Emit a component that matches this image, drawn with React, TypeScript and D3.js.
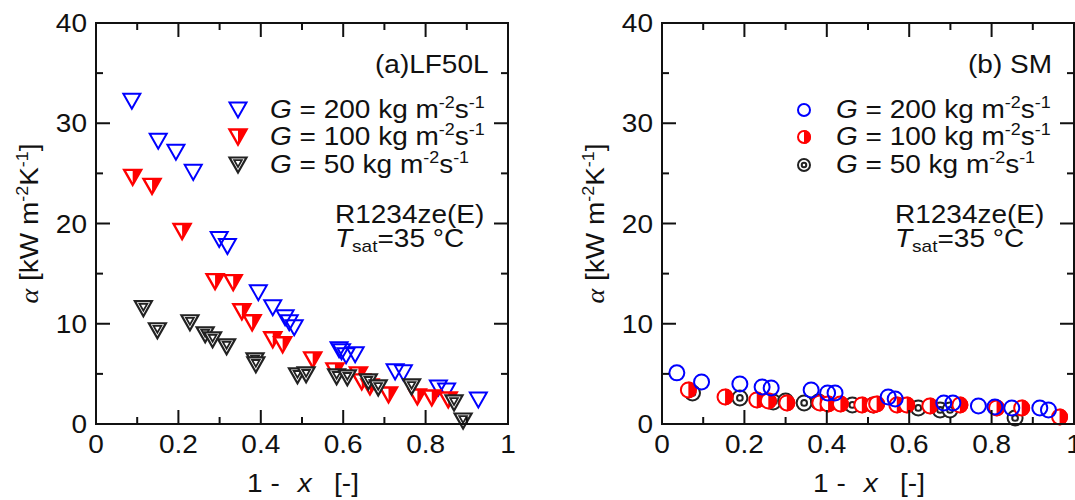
import React from "react";
import * as d3 from "d3";

const width = 1075;
const height = 500;
const FONT = "'Liberation Sans', Arial, sans-serif";
const SX = 1.12; // the original text is a bit wider than Arial

// panel (a) LF50L : [1 - x, alpha]
const lf200: [number, number][] = [
  [0.087, 32.2], [0.151, 28.2], [0.194, 27.1], [0.236, 25.1], [0.299, 18.4], [0.319, 17.7],
  [0.394, 13.1], [0.429, 11.6], [0.459, 10.6], [0.469, 10.1], [0.481, 9.6], [0.59, 7.4],
  [0.596, 7.2], [0.607, 6.8], [0.629, 6.9], [0.726, 5.2], [0.746, 5.1], [0.831, 3.6],
  [0.851, 3.3], [0.928, 2.4],
];
const lf100: [number, number][] = [
  [0.089, 24.6], [0.136, 23.7], [0.209, 19.2], [0.289, 14.2], [0.333, 14.1], [0.354, 11.2],
  [0.379, 10.1], [0.429, 8.4], [0.453, 7.9], [0.526, 6.4], [0.58, 5.3], [0.637, 4.9],
  [0.645, 4.2], [0.665, 3.7], [0.71, 2.9], [0.78, 2.7], [0.815, 2.6], [0.855, 2.4],
];
const lf50: [number, number][] = [
  [0.115, 11.5], [0.149, 9.3], [0.228, 10.1], [0.265, 8.9], [0.283, 8.4], [0.317, 7.7],
  [0.386, 6.3], [0.388, 5.9], [0.489, 4.8], [0.51, 4.9], [0.584, 4.7], [0.61, 4.6],
  [0.661, 4.2], [0.685, 3.6], [0.766, 3.7], [0.869, 2.1], [0.891, 0.3],
];

// panel (b) SM
const sm200: [number, number][] = [
  [0.036, 5.1], [0.096, 4.2], [0.189, 4.0], [0.243, 3.7], [0.265, 3.6], [0.362, 3.4],
  [0.402, 3.1], [0.42, 3.1], [0.549, 2.7], [0.566, 2.5], [0.684, 2.1], [0.706, 2.1],
  [0.768, 1.8], [0.808, 1.7], [0.849, 1.6], [0.917, 1.6], [0.938, 1.4],
];
const sm100: [number, number][] = [
  [0.064, 3.4], [0.153, 2.7], [0.23, 2.4], [0.258, 2.3], [0.303, 2.1], [0.383, 2.1],
  [0.403, 2.0], [0.433, 2.0], [0.485, 1.9], [0.513, 1.9], [0.521, 2.0], [0.57, 1.9],
  [0.594, 1.9], [0.65, 1.8], [0.723, 1.9], [0.812, 1.6], [0.873, 1.6], [0.965, 0.7],
];
const sm50: [number, number][] = [
  [0.074, 3.1], [0.189, 2.6], [0.27, 2.2], [0.3, 2.3], [0.345, 2.1], [0.38, 2.2],
  [0.462, 1.9], [0.513, 1.9], [0.622, 1.6], [0.675, 1.4], [0.699, 1.4], [0.857, 0.6],
];

const xMajor = [0, 0.2, 0.4, 0.6, 0.8, 1];
const xMinor = [0.1, 0.3, 0.5, 0.7, 0.9];
const yMajor = [0, 10, 20, 30, 40];
const yMinor = [5, 15, 25, 35];
const gValues = ["200", "100", "50"];

const BLUE = "#0000ff";
const RED = "#ff0000";
const BLACK = "#222";

// ---- markers ----
const TW = 17;
const TH = 15;
const tri = (cx: number, cy: number, s = 1) =>
  `M${cx - (TW / 2) * s},${cy - (TH / 2) * s}L${cx + (TW / 2) * s},${cy - (TH / 2) * s}L${cx},${cy + (TH / 2) * s}Z`;

const Marker = ({ kind, cx, cy, r = 7.5 }: { kind: string; cx: number; cy: number; r?: number }) => {
  if (kind === "triOpen")
    return <path d={tri(cx, cy)} fill="none" stroke={BLUE} strokeWidth={2} strokeLinejoin="miter" />;
  if (kind === "triHalf")
    return (
      <g>
        <path d={tri(cx, cy)} fill="#fff" stroke={RED} strokeWidth={2.4} />
        <path d={`M${cx},${cy - TH / 2}L${cx + TW / 2},${cy - TH / 2}L${cx},${cy + TH / 2}Z`} fill={RED} />
      </g>
    );
  if (kind === "triDouble")
    return (
      <g>
        <path d={tri(cx, cy)} fill="#fff" stroke={BLACK} strokeWidth={2.2} />
        <path d={tri(cx, cy - 1.5, 0.45)} fill="#fff" stroke={BLACK} strokeWidth={1.8} />
      </g>
    );
  if (kind === "circOpen")
    return <circle cx={cx} cy={cy} r={r} fill="none" stroke={BLUE} strokeWidth={2} />;
  if (kind === "circHalf")
    return (
      <g>
        <circle cx={cx} cy={cy} r={r} fill="#fff" stroke={RED} strokeWidth={2} />
        <path d={`M${cx},${cy - r - 1}A${r + 1},${r + 1} 0 0 1 ${cx},${cy + r + 1}Z`} fill={RED} />
      </g>
    );
  return (
    <g>
      <circle cx={cx} cy={cy} r={r} fill="#fff" stroke={BLACK} strokeWidth={2} />
      <circle cx={cx} cy={cy} r={r * 0.38} fill="#fff" stroke={BLACK} strokeWidth={2} />
    </g>
  );
};

// scaled text helper
const T = ({ x, y, anchor = "start", size = 25, rotate = 0, children }: any) => (
  <text
    transform={`translate(${x},${y}) rotate(${rotate}) scale(${SX},1)`}
    textAnchor={anchor}
    fontSize={size}
    fontFamily={FONT}
    fill="#111"
  >
    {children}
  </text>
);

const GLabel = ({ value }: { value: string }) => (
  <>
    <tspan fontStyle="italic">G</tspan>
    <tspan>{` = ${value} kg m`}</tspan>
    <tspan fontSize={16} dy={-10}>-2</tspan>
    <tspan dy={10}>s</tspan>
    <tspan fontSize={16} dy={-10}>-1</tspan>
  </>
);

type Series = { data: [number, number][]; kind: string };

const Panel = ({
  left,
  series,
  legend,
  title,
  titleX,
  legendX,
  noteX,
}: {
  left: number;
  series: Series[];
  legend: string[];
  title: string;
  titleX: number;
  legendX: number;
  noteX: number;
}) => {
  const top = 23;
  const bottom = 424;
  const right = left + 412;
  const x = d3.scaleLinear().domain([0, 1]).range([left, right]);
  const y = d3.scaleLinear().domain([0, 40]).range([bottom, top]);
  const major = 14;
  const minor = 7;
  const tick = (key: string, x1: number, y1: number, x2: number, y2: number) => (
    <line key={key} x1={x1} y1={y1} x2={x2} y2={y2} stroke="#111" strokeWidth={2} />
  );
  const legendRows = [110, 137, 165];
  return (
    <g>
      {/* data, drawn in the listed order */}
      {series.map((s, si) =>
        s.data.map((d, i) => <Marker key={`${si}-${i}`} kind={s.kind} cx={x(d[0])} cy={y(d[1])} />)
      )}

      {/* frame + inward ticks */}
      <rect x={left} y={top} width={right - left} height={bottom - top} fill="none" stroke="#111" strokeWidth={2} />
      {xMajor.map((v) => (
        <g key={`xM${v}`}>
          {tick("b", x(v), bottom, x(v), bottom - major)}
          {tick("t", x(v), top, x(v), top + major)}
        </g>
      ))}
      {xMinor.map((v) => (
        <g key={`xm${v}`}>
          {tick("b", x(v), bottom, x(v), bottom - minor)}
          {tick("t", x(v), top, x(v), top + minor)}
        </g>
      ))}
      {yMajor.map((v) => (
        <g key={`yM${v}`}>
          {tick("l", left, y(v), left + major, y(v))}
          {tick("r", right, y(v), right - major, y(v))}
        </g>
      ))}
      {yMinor.map((v) => (
        <g key={`ym${v}`}>
          {tick("l", left, y(v), left + minor, y(v))}
          {tick("r", right, y(v), right - minor, y(v))}
        </g>
      ))}

      {/* tick labels */}
      {xMajor.map((v) => (
        <T key={`xl${v}`} x={x(v)} y={453} anchor="middle">
          {d3.format("~g")(v)}
        </T>
      ))}
      {yMajor.map((v) => (
        <T key={`yl${v}`} x={left - 9} y={y(v) + 9} anchor="end">
          {v}
        </T>
      ))}

      {/* axis titles */}
      <T x={left - 58} y={(top + bottom) / 2} anchor="middle" rotate={-90}>
        <tspan fontFamily="'Liberation Serif', 'Times New Roman', serif" fontStyle="italic">α</tspan>
        <tspan>{" [kW m"}</tspan>
        <tspan fontSize={16} dy={-10}>-2</tspan>
        <tspan dy={10}>K</tspan>
        <tspan fontSize={16} dy={-10}>-1</tspan>
        <tspan dy={10}>]</tspan>
      </T>
      <T x={(left + right) / 2 + 1} y={492} anchor="middle">
        <tspan>1 -</tspan>
        <tspan dx={16} fontStyle="italic">x</tspan>
        <tspan dx={20}>[-]</tspan>
      </T>

      {/* panel title */}
      <T x={titleX} y={73}>{title}</T>

      {/* legend */}
      {legend.map((kind, i) => (
        <g key={kind}>
          <Marker kind={kind} cx={legendX} cy={legendRows[i]} r={6} />
          <T x={legendX + 32} y={legendRows[i] + 8}>
            <GLabel value={gValues[i]} />
          </T>
        </g>
      ))}

      {/* conditions */}
      <T x={noteX} y={223}>R1234ze(E)</T>
      <T x={noteX} y={247}>
        <tspan fontStyle="italic">T</tspan>
        <tspan fontSize={17} dy={5}>sat</tspan>
        <tspan dy={-5}>=35 °C</tspan>
      </T>
    </g>
  );
};

export default function App() {
  return (
    <svg
      width={width}
      height={height}
      style={{ position: "absolute", left: 0, top: 0, background: "#fff" }}
    >
      <Panel
        left={96}
        series={[
          { data: lf200, kind: "triOpen" },
          { data: lf100, kind: "triHalf" },
          { data: lf50, kind: "triDouble" },
        ]}
        legend={["triOpen", "triHalf", "triDouble"]}
        title="(a)LF50L"
        titleX={375}
        legendX={238}
        noteX={335}
      />
      <Panel
        left={662}
        series={[
          { data: sm50, kind: "circDouble" },
          { data: sm100, kind: "circHalf" },
          { data: sm200, kind: "circOpen" },
        ]}
        legend={["circOpen", "circHalf", "circDouble"]}
        title="(b) SM"
        titleX={968}
        legendX={804}
        noteX={895}
      />
    </svg>
  );
}
